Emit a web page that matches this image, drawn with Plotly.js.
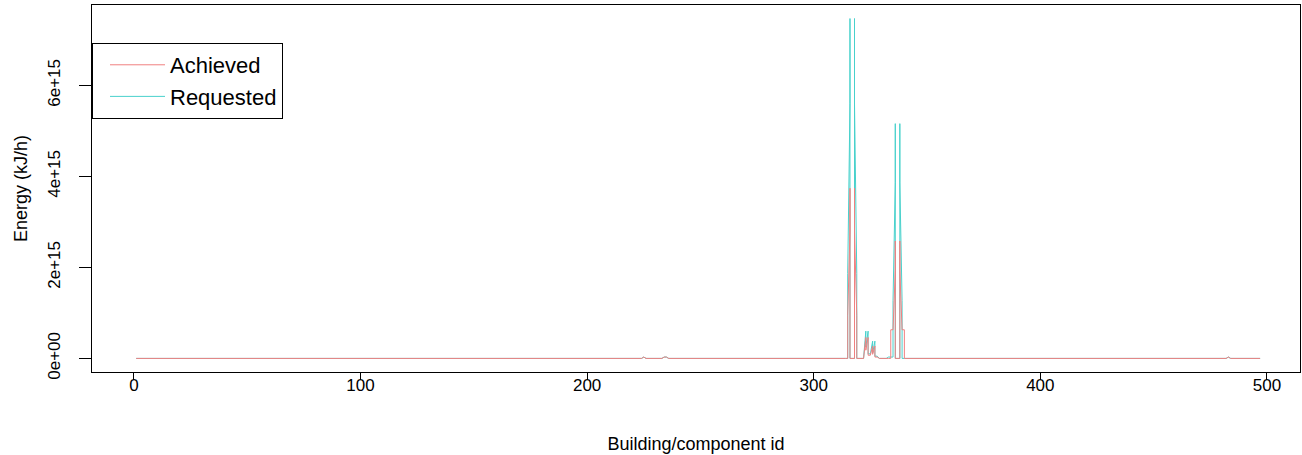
<!DOCTYPE html>
<html>
<head>
<meta charset="utf-8">
<script src="https://cdn.plot.ly/plotly-3.0.1.min.js"></script>
<style>html,body{margin:0;padding:0;background:#fff;}#chart{width:1302px;height:455px;}</style>
</head>
<body>
<div id="chart"></div>
<script>
// Building/component ids and energies (kJ/h); zero between listed points
const achievedId = [1, 224, 225, 226, 233, 234, 235, 236,
  314, 315, 315, 316, 316, 316, 318, 318, 318, 319, 319,
  322, 323, 323, 324, 324, 325, 326, 326, 327, 327, 328, 329,
  333, 334, 334, 335, 336, 336, 336, 338, 338, 338, 339, 340, 340,
  482, 483, 484, 497];
const achievedEnergy = [0, 0, 0.03e15, 0, 0, 0.03e15, 0.03e15, 0,
  0, 0, 0.94e15, 2.8e15, 3.74e15, 0, 0, 3.74e15, 2.8e15, 0.94e15, 0,
  0, 0.46e15, 0.18e15, 0.46e15, 0.07e15, 0.07e15, 0.27e15, 0.09e15, 0.27e15, 0.03e15, 0.03e15, 0,
  0, 0, 0.63e15, 0.63e15, 1.93e15, 2.58e15, 0, 0, 2.58e15, 1.93e15, 0.63e15, 0.63e15, 0,
  0, 0.03e15, 0, 0];

const requestedId = [1, 224, 225, 226, 233, 234, 235, 236,
  314, 315, 315, 316, 316, 316, 318, 318, 318, 319, 319,
  322, 323, 323, 324, 324, 325, 326, 326, 327, 327, 328, 329,
  332, 333, 334, 335, 335, 336, 336, 336, 338, 338, 338, 339, 339, 340,
  482, 483, 484, 497];
const requestedEnergy = [0, 0, 0.03e15, 0, 0, 0.03e15, 0.03e15, 0,
  0, 0, 1.87e15, 5.6e15, 7.47e15, 0, 0, 7.47e15, 5.6e15, 1.87e15, 0,
  0, 0.6e15, 0.25e15, 0.6e15, 0.1e15, 0.1e15, 0.38e15, 0.12e15, 0.38e15, 0.05e15, 0.05e15, 0,
  0, 0.03e15, 0.03e15, 0.03e15, 1.27e15, 3.86e15, 5.16e15, 0, 0, 5.16e15, 3.86e15, 1.27e15, 0, 0,
  0, 0.03e15, 0, 0];

const xTicks = [0, 100, 200, 300, 400, 500];
const yTicks = [0, 2e15, 4e15, 6e15];
const yTickLabels = ['0e+00', '2e+15', '4e+15', '6e+15'];

const font = 'Liberation Sans, Arial, sans-serif';

const traces = [
  {x: requestedId, y: requestedEnergy, type: 'scatter', mode: 'lines', name: 'Requested',
   line: {color: '#48D1CC', width: 1}},
  {x: achievedId, y: achievedEnergy, type: 'scatter', mode: 'lines', name: 'Achieved',
   line: {color: '#F08080', width: 1}}
];

const layout = {
  width: 1302, height: 455,
  margin: {l: 92, r: 2, t: 5, b: 83},
  paper_bgcolor: '#fff', plot_bgcolor: '#fff',
  font: {family: font, size: 17, color: '#000'},
  showlegend: true,
  legend: {x: 0, y: 0.8965, xanchor: 'left', yanchor: 'top', traceorder: 'reversed',
    bordercolor: '#000', borderwidth: 1, bgcolor: '#fff', font: {size: 22, family: font},
    itemwidth: 55, indentation: 12},
  xaxis: {range: [-18.5, 514.6], tickvals: xTicks, ticks: 'outside', ticklen: 7, tickcolor: '#000',
    ticklabelstandoff: -9,
    showline: true, mirror: true, linecolor: '#000', linewidth: 1, showgrid: false, zeroline: false,
    tickfont: {size: 17}, automargin: false,
    title: {text: 'Building/component id', font: {size: 18}, standoff: 42}},
  yaxis: {range: [-0.2985e15, 7.7675e15], tickvals: yTicks, ticktext: yTickLabels, tickangle: -90,
    ticks: 'outside', ticklen: 12, tickcolor: '#000', ticklabelstandoff: 12,
    showline: true, mirror: true, linecolor: '#000', linewidth: 1, showgrid: false, zeroline: false,
    tickfont: {size: 17}, automargin: false,
    title: {text: 'Energy (kJ/h)', font: {size: 18}, standoff: 12}}
};

Plotly.newPlot('chart', traces, layout, {displayModeBar: false, staticPlot: true});
</script>
</body>
</html>
